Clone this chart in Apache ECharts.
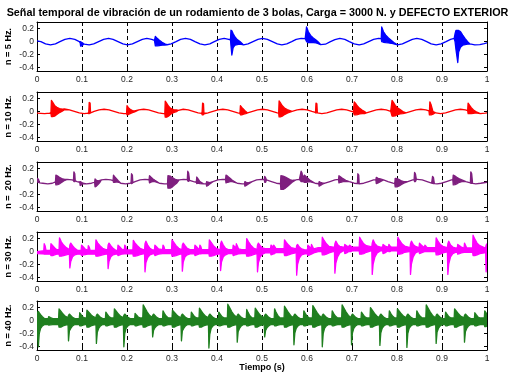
<!DOCTYPE html>
<html>
<head>
<meta charset="utf-8">
<script src="https://cdn.jsdelivr.net/npm/echarts@6/dist/echarts.min.js"></script>
<style>
html, body { margin: 0; padding: 0; background: #fff; }
#chart { width: 515px; height: 376px; }
</style>
</head>
<body>
<div id="chart"></div>
<script>
var titulo = 'Señal temporal de vibración de un rodamiento de 3 bolas, Carga = 3000 N. y DEFECTO EXTERIOR';
var rotulos = ['n = 5 Hz.', 'n = 10 Hz.', 'n =  20 Hz.', 'n = 30 Hz.', 'n = 40 Hz.'];
var xNombre = 'Tiempo (s)';
var yTicks = [-0.4, -0.2, 0, 0.2];

// each point is [t, min, max] of the trace; a point with one value is a thin trace
var senal5 = [
  [0, 0.01], [0.0086, 0], [0.019, -0.035], [0.030, -0.05], [0.041, -0.035], [0.051, 0], [0.062, 0.035], [0.073, 0.05], [0.084, 0.035], [0.094, 0],
  [0.096, -0.02, 0.0], [0.097, -0.07, -0.005], [0.1, -0.065, -0.015], [0.103, -0.04, -0.03],
  [0.105, -0.037], [0.116, -0.05], [0.126, -0.035], [0.137, 0], [0.148, 0.035], [0.159, 0.05], [0.169, 0.035], [0.180, 0], [0.191, -0.035], [0.201, -0.05],
  [0.212, -0.035], [0.223, 0], [0.234, 0.035], [0.244, 0.05], [0.255, 0.035],
  [0.261, 0.02], [0.263, -0.065, 0.08], [0.267, -0.065, 0.05], [0.272, -0.06, 0.02], [0.278, -0.055, -0.01], [0.284, -0.052, -0.035], [0.289, -0.05, -0.045],
  [0.298, -0.035], [0.309, 0], [0.319, 0.035], [0.330, 0.05], [0.341, 0.035], [0.351, 0], [0.362, -0.035], [0.373, -0.05], [0.384, -0.035], [0.394, 0],
  [0.405, 0.035], [0.416, 0.05], [0.426, 0.035],
  [0.430, 0.025, 0.035], [0.431, -0.06, 0.175], [0.433, -0.205, 0.165], [0.436, -0.09, 0.12], [0.440, -0.055, 0.07], [0.445, -0.045, 0.03], [0.451, -0.04, 0.0],
  [0.459, -0.05], [0.469, -0.035], [0.480, 0], [0.491, 0.035], [0.501, 0.05], [0.512, 0.035], [0.523, 0], [0.534, -0.035], [0.544, -0.05], [0.555, -0.035],
  [0.566, 0], [0.576, 0.035], [0.587, 0.05], [0.596, 0.045],
  [0.599, 0.0, 0.225], [0.603, -0.015, 0.15], [0.608, -0.015, 0.095], [0.614, -0.015, 0.055], [0.620, -0.02, 0.025], [0.625, -0.03, -0.005],
  [0.630, -0.045], [0.641, -0.04], [0.651, -0.005], [0.662, 0.03], [0.673, 0.05], [0.684, 0.035], [0.694, 0], [0.705, -0.035], [0.716, -0.05], [0.726, -0.035],
  [0.737, 0], [0.748, 0.035], [0.759, 0.05], [0.765, 0.045],
  [0.766, 0.0, 0.225], [0.770, -0.01, 0.15], [0.775, -0.015, 0.1], [0.781, -0.02, 0.055], [0.787, -0.025, 0.02], [0.793, -0.035, -0.015],
  [0.801, -0.05], [0.812, -0.035], [0.823, 0], [0.834, 0.035], [0.844, 0.05], [0.855, 0.035], [0.866, 0], [0.876, -0.035], [0.887, -0.05], [0.898, -0.035],
  [0.909, 0], [0.919, 0.035], [0.927, 0.048],
  [0.929, 0.0, 0.12], [0.931, -0.12, 0.17], [0.935, -0.32, 0.17], [0.937, -0.16, 0.17], [0.941, -0.085, 0.155], [0.946, -0.055, 0.1], [0.951, -0.045, 0.05], [0.957, -0.04, 0.0],
  [0.962, -0.035], [0.973, -0.05], [0.984, -0.045], [0.994, -0.03], [1.0, -0.02]
];

var senal10 = [
  [0, -0.022], [0.017, -0.03], [0.028, -0.022],
  [0.031, -0.03, -0.015], [0.032, -0.075, 0.17], [0.035, -0.075, 0.14], [0.039, -0.07, 0.095], [0.044, -0.045, 0.065], [0.05, -0.015, 0.045], [0.056, 0.005, 0.038], [0.061, 0.028, 0.04],
  [0.072, 0.026], [0.083, 0.003], [0.094, -0.02], [0.105, -0.03], [0.113, -0.024],
  [0.115, -0.03, -0.015], [0.116, -0.03, 0.14], [0.118, -0.025, 0.13], [0.119, -0.02],
  [0.127, 0.003], [0.138, 0.026], [0.149, 0.036], [0.160, 0.026], [0.171, 0.003], [0.182, -0.02], [0.193, -0.03], [0.199, -0.028],
  [0.200, -0.05, 0.09], [0.203, -0.045, 0.06], [0.207, -0.03, 0.035], [0.212, -0.015, 0.015], [0.217, -0.005, 0.01],
  [0.226, 0.026], [0.237, 0.036], [0.248, 0.026], [0.259, 0.003], [0.270, -0.02], [0.281, -0.03], [0.284, -0.03],
  [0.285, -0.085, 0.16], [0.288, -0.085, 0.13], [0.292, -0.07, 0.085], [0.297, -0.04, 0.05], [0.303, -0.015, 0.03], [0.31, 0.0, 0.025],
  [0.314, 0.02], [0.325, 0.036], [0.336, 0.026], [0.347, 0.003], [0.358, -0.02], [0.366, -0.028],
  [0.367, -0.05, 0.0], [0.368, -0.05, 0.13], [0.37, -0.045, 0.12], [0.371, -0.035, -0.025],
  [0.380, -0.02], [0.391, 0.003], [0.402, 0.026], [0.413, 0.036], [0.424, 0.026], [0.435, 0.003], [0.446, -0.02], [0.451, -0.026],
  [0.452, -0.05, 0.09], [0.455, -0.05, 0.065], [0.459, -0.04, 0.035], [0.464, -0.03, 0.0], [0.468, -0.02],
  [0.479, 0.003], [0.490, 0.026], [0.501, 0.036], [0.512, 0.026], [0.523, 0.003], [0.534, -0.02], [0.537, -0.025],
  [0.538, -0.08, 0.165], [0.541, -0.08, 0.135], [0.545, -0.07, 0.09], [0.55, -0.045, 0.055], [0.556, -0.025, 0.03], [0.562, -0.01, 0.015], [0.567, 0.003],
  [0.578, 0.026], [0.589, 0.036], [0.600, 0.026], [0.611, 0.003], [0.618, -0.01],
  [0.619, -0.02, 0.0], [0.620, -0.02, 0.13], [0.622, -0.015, 0.12], [0.623, -0.018],
  [0.633, -0.03], [0.644, -0.02], [0.655, 0.003], [0.666, 0.026], [0.677, 0.036], [0.688, 0.026], [0.699, 0.003], [0.703, -0.005],
  [0.705, -0.05, 0.15], [0.708, -0.05, 0.125], [0.712, -0.045, 0.085], [0.717, -0.035, 0.05], [0.723, -0.03, 0.02], [0.728, -0.03, 0.0],
  [0.732, -0.02], [0.743, 0.003], [0.754, 0.026], [0.765, 0.036], [0.776, 0.026], [0.786, 0.005],
  [0.789, -0.07, 0.17], [0.792, -0.07, 0.14], [0.796, -0.065, 0.095], [0.801, -0.045, 0.06], [0.807, -0.035, 0.03], [0.813, -0.03, 0.0],
  [0.820, -0.02], [0.831, 0.003], [0.842, 0.026], [0.853, 0.036], [0.864, 0.026], [0.871, 0.01],
  [0.872, -0.05, 0.0], [0.873, -0.05, 0.15], [0.876, -0.05, 0.1], [0.88, -0.04, 0.0], [0.884, -0.02, -0.01],
  [0.886, -0.02], [0.897, -0.03], [0.908, -0.02], [0.919, 0.003], [0.930, 0.026], [0.941, 0.036], [0.952, 0.026], [0.957, 0.015],
  [0.958, -0.03, 0.13], [0.961, -0.03, 0.1], [0.965, -0.03, 0.06], [0.97, -0.025, 0.025], [0.975, -0.02, 0.0],
  [0.985, -0.03], [0.996, -0.022], [1.0, -0.018]
];

var senal20 = [
  [0, -0.005, 0.05], [0.003, -0.01, 0.04], [0.006, -0.02], [0.013, -0.025], [0.024, -0.035], [0.034, -0.025], [0.041, -0.005],
  [0.042, -0.05, 0.1], [0.046, -0.045, 0.085], [0.051, -0.03, 0.06], [0.057, 0.0, 0.04], [0.062, 0.02, 0.035], [0.067, 0.035],
  [0.078, 0.025], [0.081, 0.02], [0.082, 0.0, 0.15], [0.084, 0.0, 0.12], [0.085, 0.01], [0.089, 0.0],
  [0.095, -0.01, -0.005], [0.096, -0.06, 0.0], [0.099, -0.05, -0.01], [0.102, -0.03, -0.025], [0.110, -0.035], [0.121, -0.025],
  [0.128, -0.01], [0.129, -0.08, 0.04], [0.132, -0.07, 0.02], [0.136, -0.04, 0.01], [0.14, -0.01, 0.02], [0.143, 0.025], [0.153, 0.035],
  [0.164, 0.025], [0.169, 0.015], [0.170, -0.01, 0.1], [0.173, -0.01, 0.07], [0.177, -0.005, 0.04], [0.181, -0.01, 0.01], [0.186, -0.025], [0.197, -0.035],
  [0.207, -0.025], [0.209, -0.02], [0.210, -0.03, 0.12], [0.212, -0.025, 0.1], [0.213, -0.015], [0.218, 0], [0.229, 0.025], [0.240, 0.035],
  [0.249, 0.028], [0.250, -0.02, 0.09], [0.253, -0.01, 0.07], [0.257, 0.0, 0.045], [0.262, 0.0, 0.02], [0.272, -0.025],
  [0.283, -0.035], [0.29, -0.03], [0.291, -0.1, 0.09], [0.296, -0.1, 0.085], [0.301, -0.08, 0.06], [0.306, -0.05, 0.04], [0.311, -0.02, 0.025], [0.316, 0.025], [0.326, 0.035],
  [0.334, 0.03], [0.335, 0.01, 0.16], [0.337, 0.005, 0.13], [0.339, 0.02], [0.348, 0.0],
  [0.354, -0.01], [0.355, -0.03, 0.07], [0.358, -0.025, 0.04], [0.362, -0.03, 0.0], [0.37, -0.035],
  [0.376, -0.03], [0.377, -0.07, 0.0], [0.38, -0.06, -0.01], [0.384, -0.035, -0.015], [0.391, 0.0], [0.402, 0.025], [0.413, 0.035],
  [0.419, 0.032], [0.420, -0.02, 0.1], [0.424, -0.01, 0.08], [0.429, 0.0, 0.05], [0.434, 0.0, 0.02], [0.445, -0.025], [0.456, -0.035],
  [0.461, -0.032], [0.462, -0.07, 0.0], [0.465, -0.06, -0.01], [0.469, -0.04, -0.02], [0.478, 0.0], [0.488, 0.025], [0.499, 0.035],
  [0.505, 0.03], [0.506, -0.01, 0.08], [0.508, -0.01, 0.06], [0.51, 0.025], [0.521, 0.0], [0.532, -0.025], [0.541, -0.033],
  [0.542, -0.12, 0.09], [0.547, -0.12, 0.085], [0.552, -0.1, 0.07], [0.557, -0.07, 0.05], [0.562, -0.04, 0.03], [0.567, -0.01, 0.02], [0.575, 0.025], [0.583, 0.033],
  [0.587, 0.0, 0.16], [0.589, 0.0, 0.13], [0.591, 0.0, 0.05], [0.594, -0.01, 0.1], [0.598, -0.01, 0.075], [0.603, -0.005, 0.045], [0.608, -0.005, 0.015], [0.618, -0.025], [0.626, -0.033],
  [0.627, -0.07, 0.0], [0.63, -0.06, -0.01], [0.634, -0.04, -0.02], [0.64, -0.025], [0.651, 0.0], [0.662, 0.025], [0.67, 0.033],
  [0.671, -0.02, 0.09], [0.675, -0.01, 0.07], [0.68, 0.0, 0.045], [0.686, 0.0, 0.02], [0.694, 0.0], [0.705, -0.025],
  [0.712, -0.03], [0.713, -0.03, 0.12], [0.715, -0.03, 0.1], [0.716, -0.035], [0.726, -0.025], [0.737, 0.0], [0.748, 0.025],
  [0.753, 0.03], [0.754, -0.03, 0.065], [0.758, -0.02, 0.05], [0.763, 0.0, 0.04], [0.77, 0.025], [0.78, 0.0], [0.791, -0.025],
  [0.795, -0.03], [0.796, -0.08, 0.05], [0.8, -0.08, 0.045], [0.805, -0.065, 0.03], [0.81, -0.045, 0.01], [0.815, -0.025, 0.0], [0.824, 0.0], [0.835, 0.025],
  [0.838, 0.03], [0.839, 0.0, 0.14], [0.841, 0.0, 0.12], [0.843, 0.033], [0.845, 0.035], [0.856, 0.025], [0.867, 0.0], [0.877, -0.022],
  [0.879, -0.028, 0.08], [0.881, -0.03, 0.065], [0.883, -0.03], [0.889, -0.035], [0.899, -0.025], [0.91, 0.0], [0.921, 0.025],
  [0.924, 0.028], [0.925, -0.05, 0.1], [0.929, -0.045, 0.085], [0.934, -0.03, 0.06], [0.939, -0.01, 0.04], [0.944, 0.0, 0.028], [0.953, 0.0],
  [0.963, -0.02], [0.964, -0.025, 0.15], [0.966, -0.025, 0.12], [0.968, -0.028], [0.975, -0.035], [0.986, -0.025], [1.0, -0.01]
];

var senal30 = [
  [0, -0.03, 0.0], [0.012, -0.035, 0.01],
  [0.015, -0.035, 0.01], [0.016, -0.04, 0.12], [0.018, -0.04, 0.09], [0.02, -0.04, 0.02],
  [0.03, -0.04, 0.02], [0.031, -0.06, 0.12], [0.035, -0.06, 0.09], [0.039, -0.05, 0.06], [0.044, -0.04, 0.03],
  [0.049, -0.04, 0.03], [0.050, -0.07, 0.21], [0.054, -0.07, 0.15], [0.059, -0.06, 0.1], [0.065, -0.05, 0.06], [0.071, -0.04, 0.035],
  [0.072, -0.04, 0.03], [0.073, -0.25, 0.1], [0.075, -0.15, 0.13], [0.079, -0.08, 0.09], [0.084, -0.05, 0.05], [0.09, -0.04, 0.02],
  [0.098, -0.04, 0.02], [0.099, -0.06, 0.1], [0.103, -0.05, 0.07], [0.107, -0.045, 0.04],
  [0.113, -0.04, 0.02], [0.114, -0.04, 0.09], [0.116, -0.04, 0.07], [0.118, -0.04, 0.02],
  [0.13, -0.04, 0.02], [0.131, -0.07, 0.18], [0.135, -0.07, 0.13], [0.14, -0.06, 0.09], [0.146, -0.05, 0.05], [0.153, -0.04, 0.03],
  [0.157, -0.04, 0.03], [0.158, -0.26, 0.1], [0.16, -0.15, 0.13], [0.164, -0.08, 0.09], [0.169, -0.05, 0.05], [0.175, -0.04, 0.02],
  [0.179, -0.04, 0.02], [0.18, -0.06, 0.1], [0.184, -0.05, 0.07], [0.188, -0.04, 0.04],
  [0.194, -0.035, 0.025], [0.195, -0.035, 0.1], [0.197, -0.035, 0.08], [0.199, -0.035, 0.025],
  [0.213, -0.035, 0.025], [0.214, -0.07, 0.17], [0.218, -0.07, 0.13], [0.223, -0.06, 0.09], [0.229, -0.045, 0.05], [0.236, -0.035, 0.03],
  [0.239, -0.035, 0.03], [0.24, -0.31, 0.12], [0.242, -0.17, 0.16], [0.246, -0.09, 0.1], [0.251, -0.05, 0.05], [0.257, -0.035, 0.025],
  [0.261, -0.035, 0.025], [0.262, -0.06, 0.1], [0.266, -0.05, 0.07], [0.27, -0.04, 0.04],
  [0.279, -0.03, 0.03], [0.28, -0.03, 0.1], [0.282, -0.03, 0.08], [0.284, -0.03, 0.03],
  [0.299, -0.03, 0.03], [0.3, -0.07, 0.18], [0.304, -0.07, 0.14], [0.309, -0.06, 0.09], [0.315, -0.045, 0.05], [0.321, -0.035, 0.03],
  [0.322, -0.035, 0.03], [0.323, -0.3, 0.1], [0.325, -0.16, 0.13], [0.329, -0.08, 0.09], [0.334, -0.05, 0.05], [0.34, -0.035, 0.03],
  [0.35, -0.03, 0.03], [0.351, -0.06, 0.1], [0.355, -0.05, 0.07], [0.359, -0.04, 0.04],
  [0.361, -0.035, 0.035], [0.362, -0.035, 0.1], [0.364, -0.035, 0.08], [0.366, -0.03, 0.03],
  [0.382, -0.03, 0.03], [0.383, -0.07, 0.18], [0.387, -0.07, 0.14], [0.392, -0.06, 0.09], [0.398, -0.045, 0.05], [0.405, -0.035, 0.03],
  [0.407, -0.035, 0.03], [0.408, -0.29, 0.12], [0.41, -0.16, 0.16], [0.414, -0.08, 0.1], [0.419, -0.05, 0.05], [0.425, -0.03, 0.03],
  [0.435, -0.03, 0.03], [0.436, -0.06, 0.1], [0.44, -0.05, 0.07], [0.442, -0.045, 0.06], [0.443, -0.045, 0.12], [0.445, -0.04, 0.09], [0.448, -0.035, 0.04], [0.455, -0.03, 0.03],
  [0.465, -0.03, 0.03], [0.466, -0.07, 0.2], [0.47, -0.07, 0.15], [0.475, -0.06, 0.1], [0.481, -0.045, 0.055], [0.488, -0.03, 0.035],
  [0.489, -0.03, 0.035], [0.49, -0.31, 0.1], [0.492, -0.17, 0.13], [0.496, -0.08, 0.09], [0.501, -0.04, 0.055], [0.507, -0.02, 0.045],
  [0.519, -0.015, 0.045], [0.52, -0.05, 0.1], [0.524, -0.04, 0.075], [0.525, -0.035, 0.07], [0.526, -0.035, 0.1], [0.528, -0.03, 0.08], [0.531, -0.015, 0.045],
  [0.549, -0.015, 0.045], [0.55, -0.06, 0.18], [0.554, -0.06, 0.14], [0.559, -0.05, 0.1], [0.565, -0.035, 0.06], [0.574, -0.02, 0.045],
  [0.576, -0.02, 0.045], [0.577, -0.36, 0.09], [0.579, -0.2, 0.11], [0.583, -0.1, 0.07], [0.588, -0.05, 0.04], [0.595, -0.035, 0.025],
  [0.601, -0.035, 0.025], [0.602, -0.06, 0.1], [0.606, -0.05, 0.07], [0.609, -0.04, 0.05], [0.61, -0.04, 0.11], [0.612, -0.03, 0.08], [0.615, -0.02, 0.04], [0.625, 0.0, 0.06],
  [0.633, 0.0, 0.06], [0.634, -0.05, 0.22], [0.638, -0.05, 0.17], [0.643, -0.04, 0.12], [0.649, -0.02, 0.08], [0.658, 0.0, 0.07],
  [0.661, 0.0, 0.07], [0.662, -0.33, 0.12], [0.664, -0.18, 0.16], [0.668, -0.08, 0.11], [0.673, -0.02, 0.08], [0.68, 0.01, 0.07],
  [0.683, 0.01, 0.07], [0.684, -0.03, 0.11], [0.688, -0.02, 0.09], [0.692, 0.0, 0.075], [0.695, 0.0, 0.1], [0.697, 0.0, 0.085], [0.7, 0.01, 0.07],
  [0.716, 0.01, 0.07], [0.717, -0.04, 0.22], [0.721, -0.04, 0.17], [0.726, -0.03, 0.12], [0.732, -0.01, 0.09], [0.742, 0.01, 0.075],
  [0.744, 0.01, 0.075], [0.745, -0.35, 0.13], [0.747, -0.19, 0.18], [0.751, -0.08, 0.12], [0.756, -0.02, 0.085], [0.763, 0.01, 0.07],
  [0.768, 0.01, 0.07], [0.769, -0.03, 0.11], [0.773, -0.02, 0.09], [0.777, 0.0, 0.075], [0.781, 0.01, 0.07], [0.782, 0.0, 0.11], [0.784, 0.0, 0.09], [0.787, 0.01, 0.07],
  [0.801, 0.01, 0.07], [0.802, -0.04, 0.22], [0.806, -0.04, 0.17], [0.811, -0.03, 0.12], [0.817, -0.01, 0.085], [0.827, 0.0, 0.065],
  [0.829, 0.0, 0.065], [0.83, -0.35, 0.12], [0.832, -0.19, 0.16], [0.836, -0.08, 0.11], [0.841, -0.02, 0.08], [0.847, 0.0, 0.065],
  [0.849, 0.0, 0.065], [0.85, -0.03, 0.13], [0.854, -0.02, 0.1], [0.858, -0.01, 0.075], [0.861, 0.0, 0.065], [0.862, 0.0, 0.1], [0.864, 0.0, 0.085], [0.867, 0.0, 0.06],
  [0.886, 0.0, 0.06], [0.887, -0.05, 0.21], [0.891, -0.05, 0.16], [0.896, -0.04, 0.11], [0.902, -0.02, 0.08], [0.911, -0.005, 0.06],
  [0.912, -0.005, 0.06], [0.913, -0.35, 0.12], [0.915, -0.19, 0.16], [0.919, -0.08, 0.1], [0.924, -0.03, 0.07], [0.931, -0.01, 0.055],
  [0.934, -0.01, 0.055], [0.935, -0.04, 0.11], [0.939, -0.03, 0.09], [0.943, -0.02, 0.07], [0.949, -0.01, 0.055], [0.95, -0.01, 0.13], [0.952, -0.01, 0.1], [0.955, -0.01, 0.055],
  [0.968, -0.01, 0.055], [0.969, -0.06, 0.25], [0.973, -0.06, 0.19], [0.978, -0.05, 0.13], [0.984, -0.03, 0.09], [0.994, -0.02, 0.06],
  [0.997, -0.02, 0.06], [0.998, -0.31, 0.1], [1.0, -0.2, 0.12]
];

var senal40 = [
  [0, -0.1, 0.12], [0.003, -0.40, 0.14], [0.005, -0.2, 0.12], [0.008, -0.12, 0.09], [0.012, -0.08, 0.06], [0.017, -0.06, 0.03],
  [0.025, -0.06, 0.03], [0.026, -0.07, 0.06], [0.03, -0.065, 0.045], [0.035, -0.06, 0.03],
  [0.048, -0.06, 0.03], [0.049, -0.1, 0.18], [0.053, -0.1, 0.145], [0.058, -0.08, 0.1], [0.063, -0.07, 0.065], [0.068, -0.06, 0.05],
  [0.069, -0.06, 0.05], [0.070, -0.31, 0.08], [0.072, -0.16, 0.1], [0.075, -0.12, 0.08], [0.079, -0.08, 0.05], [0.084, -0.06, 0.03],
  [0.094, -0.06, 0.03], [0.095, -0.08, 0.12], [0.098, -0.08, 0.09], [0.102, -0.07, 0.055], [0.107, -0.06, 0.04],
  [0.110, -0.06, 0.04], [0.111, -0.1, 0.16], [0.115, -0.1, 0.13], [0.12, -0.08, 0.09], [0.125, -0.07, 0.06], [0.13, -0.06, 0.045],
  [0.131, -0.06, 0.045], [0.132, -0.35, 0.08], [0.134, -0.18, 0.1], [0.137, -0.12, 0.08], [0.141, -0.08, 0.05], [0.146, -0.06, 0.03],
  [0.152, -0.06, 0.03], [0.153, -0.08, 0.13], [0.156, -0.08, 0.1], [0.16, -0.07, 0.06], [0.165, -0.06, 0.04],
  [0.171, -0.06, 0.04], [0.172, -0.1, 0.18], [0.176, -0.1, 0.145], [0.181, -0.08, 0.1], [0.186, -0.07, 0.065], [0.191, -0.06, 0.05],
  [0.192, -0.06, 0.05], [0.193, -0.40, 0.08], [0.195, -0.2, 0.1], [0.198, -0.12, 0.08], [0.202, -0.08, 0.05], [0.207, -0.06, 0.03],
  [0.217, -0.06, 0.03], [0.218, -0.08, 0.11], [0.221, -0.08, 0.085], [0.225, -0.07, 0.055], [0.23, -0.06, 0.04],
  [0.235, -0.06, 0.04], [0.236, -0.1, 0.24], [0.24, -0.1, 0.19], [0.245, -0.08, 0.13], [0.25, -0.07, 0.08], [0.255, -0.06, 0.055],
  [0.256, -0.06, 0.055], [0.257, -0.25, 0.08], [0.259, -0.15, 0.1], [0.262, -0.11, 0.08], [0.266, -0.08, 0.05], [0.271, -0.06, 0.03],
  [0.279, -0.06, 0.03], [0.28, -0.08, 0.15], [0.283, -0.08, 0.11], [0.287, -0.07, 0.07], [0.292, -0.06, 0.04],
  [0.3, -0.06, 0.04], [0.301, -0.1, 0.16], [0.305, -0.1, 0.13], [0.31, -0.08, 0.09], [0.315, -0.07, 0.06], [0.319, -0.06, 0.045],
  [0.320, -0.06, 0.045], [0.321, -0.31, 0.08], [0.323, -0.16, 0.1], [0.326, -0.12, 0.08], [0.33, -0.08, 0.05], [0.335, -0.06, 0.03],
  [0.342, -0.06, 0.03], [0.343, -0.08, 0.13], [0.346, -0.08, 0.1], [0.35, -0.07, 0.06], [0.355, -0.06, 0.04],
  [0.36, -0.06, 0.04], [0.361, -0.1, 0.19], [0.365, -0.1, 0.15], [0.37, -0.08, 0.1], [0.375, -0.07, 0.065], [0.38, -0.06, 0.05],
  [0.381, -0.06, 0.05], [0.382, -0.42, 0.08], [0.384, -0.21, 0.1], [0.387, -0.12, 0.08], [0.391, -0.08, 0.05], [0.396, -0.06, 0.03],
  [0.403, -0.06, 0.03], [0.404, -0.08, 0.13], [0.407, -0.08, 0.1], [0.411, -0.07, 0.06], [0.416, -0.06, 0.04],
  [0.423, -0.06, 0.04], [0.424, -0.1, 0.25], [0.428, -0.1, 0.2], [0.433, -0.08, 0.135], [0.438, -0.07, 0.085], [0.443, -0.06, 0.055],
  [0.444, -0.06, 0.055], [0.445, -0.33, 0.08], [0.447, -0.17, 0.1], [0.45, -0.12, 0.08], [0.454, -0.08, 0.05], [0.459, -0.06, 0.03],
  [0.465, -0.06, 0.03], [0.466, -0.08, 0.17], [0.469, -0.08, 0.125], [0.473, -0.07, 0.075], [0.478, -0.06, 0.04],
  [0.484, -0.06, 0.04], [0.485, -0.1, 0.19], [0.489, -0.1, 0.15], [0.494, -0.08, 0.1], [0.499, -0.07, 0.065], [0.504, -0.06, 0.05],
  [0.505, -0.06, 0.05], [0.506, -0.25, 0.08], [0.508, -0.15, 0.1], [0.511, -0.11, 0.08], [0.515, -0.08, 0.05], [0.52, -0.06, 0.03],
  [0.527, -0.06, 0.03], [0.528, -0.08, 0.18], [0.531, -0.08, 0.13], [0.535, -0.07, 0.08], [0.54, -0.06, 0.04],
  [0.549, -0.06, 0.04], [0.55, -0.1, 0.22], [0.554, -0.1, 0.175], [0.559, -0.08, 0.12], [0.564, -0.07, 0.075], [0.569, -0.06, 0.05],
  [0.57, -0.06, 0.05], [0.571, -0.37, 0.08], [0.573, -0.19, 0.1], [0.576, -0.12, 0.08], [0.58, -0.08, 0.05], [0.585, -0.06, 0.03],
  [0.592, -0.06, 0.03], [0.593, -0.08, 0.15], [0.596, -0.08, 0.11], [0.6, -0.07, 0.07], [0.605, -0.06, 0.04],
  [0.612, -0.06, 0.04], [0.613, -0.1, 0.23], [0.617, -0.1, 0.185], [0.622, -0.08, 0.125], [0.627, -0.07, 0.08], [0.632, -0.06, 0.05],
  [0.633, -0.06, 0.05], [0.634, -0.40, 0.08], [0.636, -0.2, 0.1], [0.639, -0.12, 0.08], [0.643, -0.08, 0.05], [0.648, -0.06, 0.03],
  [0.655, -0.06, 0.03], [0.656, -0.08, 0.15], [0.659, -0.08, 0.11], [0.663, -0.07, 0.07], [0.668, -0.06, 0.04],
  [0.677, -0.06, 0.04], [0.678, -0.1, 0.24], [0.682, -0.1, 0.19], [0.687, -0.08, 0.13], [0.692, -0.07, 0.08], [0.697, -0.06, 0.05],
  [0.698, -0.06, 0.05], [0.699, -0.37, 0.08], [0.701, -0.19, 0.1], [0.704, -0.12, 0.08], [0.708, -0.08, 0.05], [0.713, -0.06, 0.03],
  [0.72, -0.06, 0.03], [0.721, -0.08, 0.13], [0.724, -0.08, 0.1], [0.728, -0.07, 0.06], [0.733, -0.06, 0.04],
  [0.74, -0.06, 0.04], [0.741, -0.1, 0.2], [0.745, -0.1, 0.16], [0.75, -0.08, 0.11], [0.755, -0.07, 0.07], [0.76, -0.06, 0.05],
  [0.761, -0.06, 0.05], [0.762, -0.38, 0.08], [0.764, -0.19, 0.1], [0.767, -0.12, 0.08], [0.771, -0.08, 0.05], [0.776, -0.06, 0.03],
  [0.782, -0.06, 0.03], [0.783, -0.08, 0.15], [0.786, -0.08, 0.11], [0.79, -0.07, 0.07], [0.795, -0.06, 0.04],
  [0.8, -0.06, 0.04], [0.801, -0.1, 0.18], [0.805, -0.1, 0.145], [0.81, -0.08, 0.1], [0.815, -0.07, 0.065], [0.82, -0.06, 0.05],
  [0.821, -0.06, 0.05], [0.822, -0.41, 0.08], [0.824, -0.2, 0.1], [0.827, -0.12, 0.08], [0.831, -0.08, 0.05], [0.836, -0.06, 0.03],
  [0.843, -0.06, 0.03], [0.844, -0.08, 0.15], [0.847, -0.08, 0.11], [0.851, -0.07, 0.07], [0.856, -0.06, 0.04],
  [0.864, -0.06, 0.04], [0.865, -0.1, 0.24], [0.869, -0.1, 0.19], [0.874, -0.08, 0.13], [0.879, -0.07, 0.08], [0.884, -0.06, 0.05],
  [0.886, -0.06, 0.05], [0.887, -0.35, 0.08], [0.889, -0.18, 0.1], [0.892, -0.12, 0.08], [0.896, -0.08, 0.05], [0.901, -0.06, 0.03],
  [0.907, -0.06, 0.03], [0.908, -0.08, 0.13], [0.911, -0.08, 0.1], [0.915, -0.07, 0.06], [0.92, -0.06, 0.04],
  [0.927, -0.06, 0.04], [0.928, -0.1, 0.18], [0.932, -0.1, 0.145], [0.937, -0.08, 0.1], [0.942, -0.07, 0.065], [0.947, -0.06, 0.05],
  [0.949, -0.06, 0.05], [0.95, -0.33, 0.08], [0.952, -0.17, 0.1], [0.955, -0.12, 0.08], [0.959, -0.08, 0.05], [0.964, -0.06, 0.03],
  [0.972, -0.06, 0.03], [0.973, -0.08, 0.12], [0.976, -0.08, 0.09], [0.98, -0.07, 0.055], [0.985, -0.06, 0.04],
  [0.994, -0.06, 0.04], [0.995, -0.09, 0.15], [0.998, -0.09, 0.12], [1.0, -0.08, 0.1]
];

var senales = [senal5, senal10, senal20, senal30, senal40];
var colores = ['#0000ff', '#ff0000', '#7f1f7f', '#ff00ff', '#1f7f1f'];
var tops = [22, 92, 162, 232, 301];
var fuente = 'Liberation Sans, Arial, Helvetica, sans-serif';

var myChart = echarts.init(document.getElementById('chart'), null, { renderer: 'canvas' });

var grids = [], xAxes = [], yAxes = [], series = [];

senales.forEach(function (pts, i) {
  var color = colores[i];
  grids.push({ left: 37, right: 28, top: tops[i], height: 49, containLabel: false, outerBoundsMode: 'none' });
  xAxes.push({
    type: 'value', gridIndex: i, min: 0, max: 1, interval: 0.1,
    axisLine: { show: true, onZero: false, lineStyle: { color: '#000', width: 1 } },
    axisTick: { show: true, inside: true, length: 3, lineStyle: { color: '#000' } },
    axisLabel: {
      fontSize: 8.5, fontFamily: fuente, color: '#262626', margin: 4,
      formatter: function (v) { return v === 0 ? '0' : (v === 1 ? '1' : v.toFixed(1)); }
    },
    splitLine: { show: true, lineStyle: { color: '#000', width: 1, type: [4, 3] } },
    name: i === 4 ? xNombre : '', nameLocation: 'middle', nameGap: 13, nameMoveOverlap: false,
    nameTextStyle: { fontSize: 9, fontWeight: 'bold', fontFamily: fuente, color: '#000' }
  });
  xAxes.push({
    type: 'value', gridIndex: i, position: 'top', min: 0, max: 1, interval: 0.1,
    axisLine: { show: true, onZero: false, lineStyle: { color: '#000', width: 1 } },
    axisTick: { show: true, inside: true, length: 3, lineStyle: { color: '#000' } },
    axisLabel: { show: false }, splitLine: { show: false }
  });
  yAxes.push({
    type: 'value', gridIndex: i, min: -0.45, max: 0.3,
    axisLine: { show: true, onZero: false, lineStyle: { color: '#000', width: 1 } },
    axisTick: { show: true, inside: true, length: 3, customValues: yTicks, lineStyle: { color: '#000' } },
    axisLabel: {
      fontSize: 8.5, fontFamily: fuente, color: '#262626', margin: 3, customValues: yTicks,
      formatter: function (v) { return v === 0 ? '0' : String(v); }
    },
    splitLine: { show: false },
    name: rotulos[i], nameLocation: 'middle', nameGap: 24, nameMoveOverlap: false,
    nameTextStyle: { fontSize: 9, fontWeight: 'bold', fontFamily: fuente, color: '#000' }
  });
  yAxes.push({
    type: 'value', gridIndex: i, position: 'right', min: -0.45, max: 0.3,
    axisLine: { show: true, onZero: false, lineStyle: { color: '#000', width: 1 } },
    axisTick: { show: true, inside: true, length: 3, customValues: yTicks, lineStyle: { color: '#000' } },
    axisLabel: { show: false }, splitLine: { show: false }
  });
  series.push({
    type: 'custom', xAxisIndex: 2 * i, yAxisIndex: 2 * i, silent: true, animation: false, clip: true,
    data: pts.map(function (p) { return [p[0], p[1], p.length > 2 ? p[2] : p[1]]; }),
    encode: { x: 0, y: [1, 2] },
    renderItem: function (params, api) {
      if (params.dataIndex !== 0) return null;
      var upper = [], lower = [];
      pts.forEach(function (p) {
        var hi = p.length > 2 ? p[2] : p[1];
        upper.push(api.coord([p[0], hi]));
        lower.push(api.coord([p[0], p[1]]));
      });
      return {
        type: 'polygon',
        shape: { points: upper.concat(lower.reverse()) },
        style: { fill: color, stroke: color, lineWidth: 1.3, lineJoin: 'round' }
      };
    }
  });
});

var option = {
  backgroundColor: '#fff',
  animation: false,
  title: {
    text: titulo, left: 'center', top: 3,
    textStyle: { fontSize: 10.8, fontWeight: 'bold', fontFamily: fuente, color: '#000' }
  },
  grid: grids,
  xAxis: xAxes,
  yAxis: yAxes,
  series: series
};

myChart.setOption(option);
</script>
</body>
</html>
